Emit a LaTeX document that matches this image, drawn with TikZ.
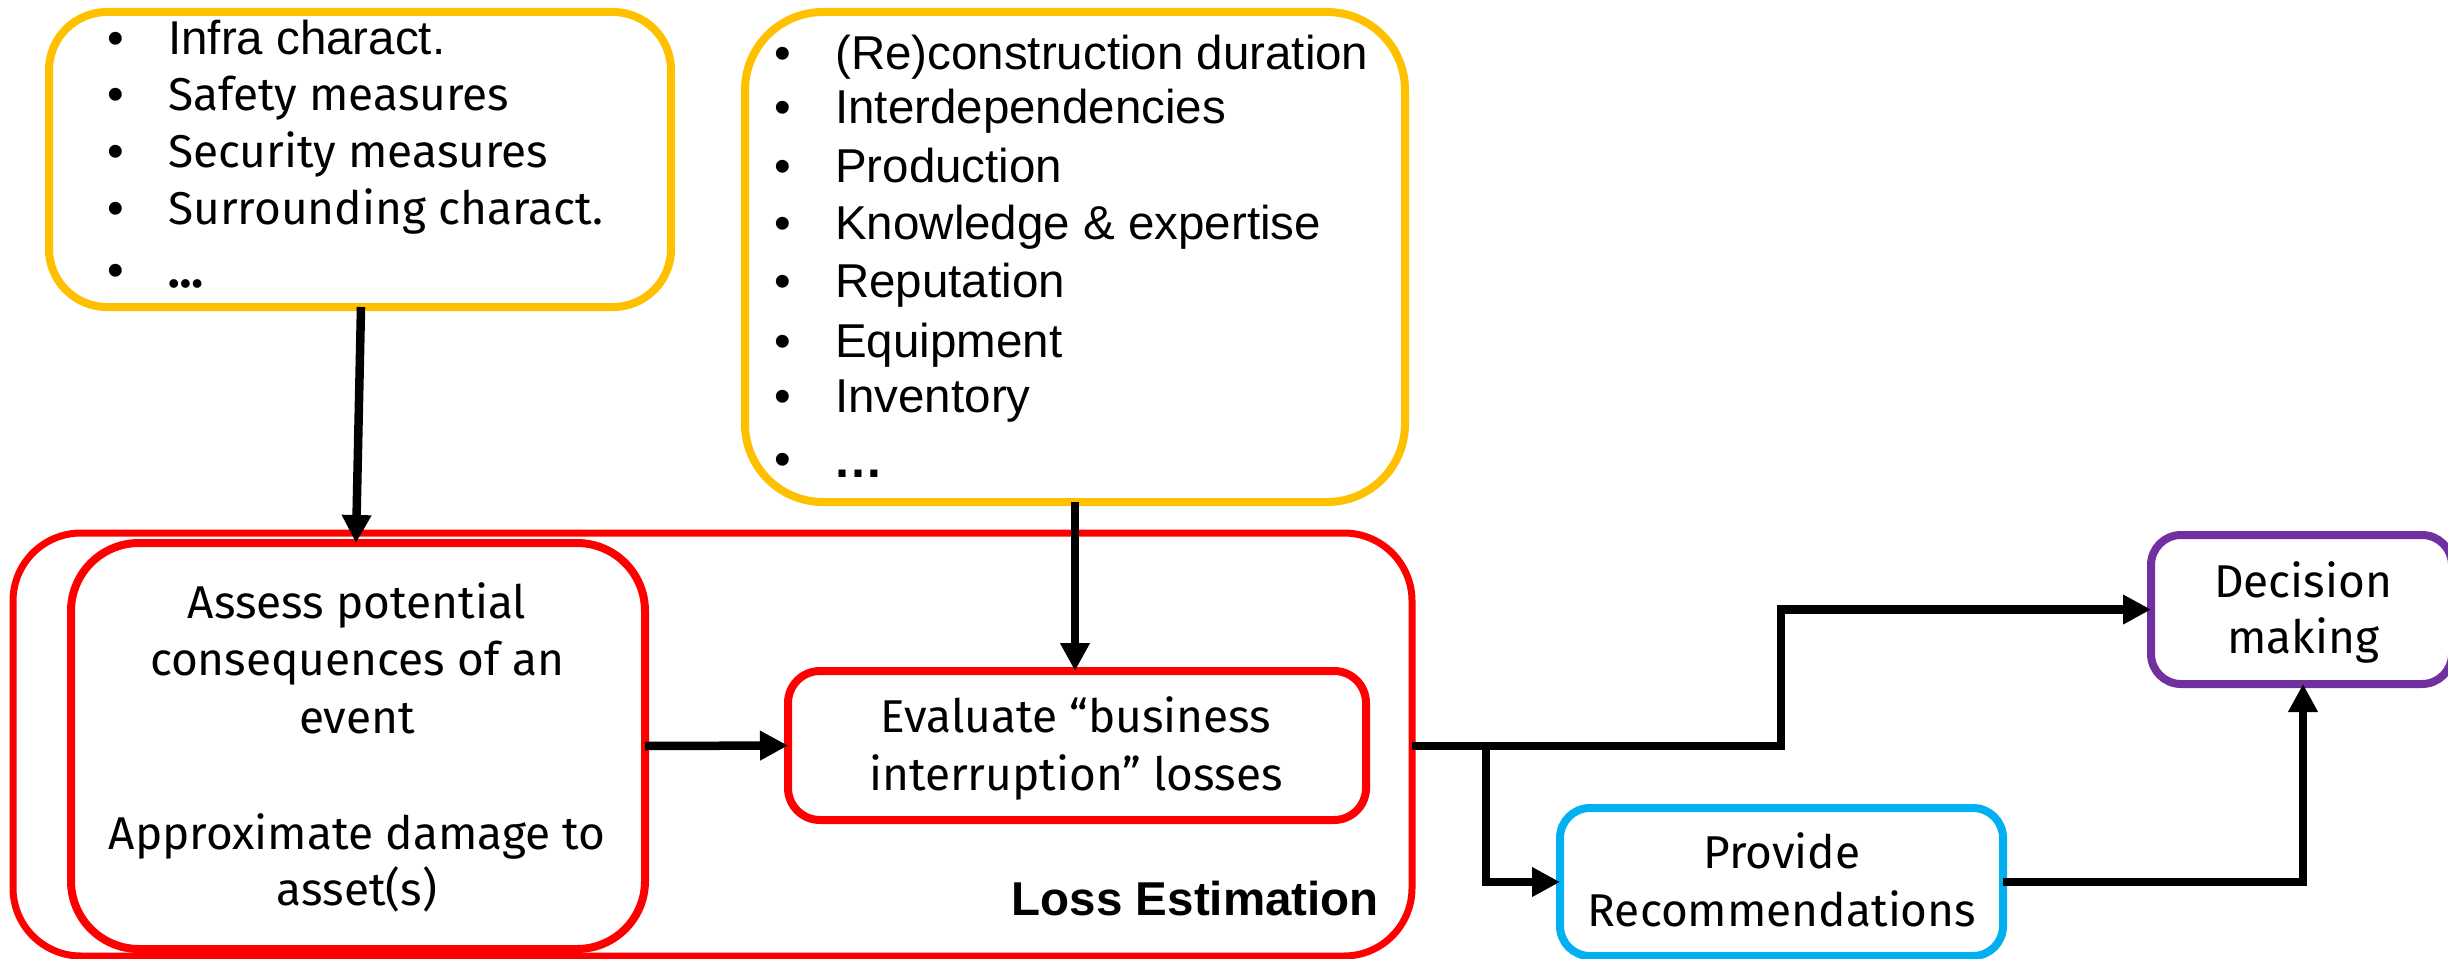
\documentclass[tikz,border=0pt]{standalone}
\usepackage{fontspec}
\setmainfont{Liberation Sans}
\newfontfamily\aptosfont{Fira Sans}
\usetikzlibrary{arrows.meta}
\definecolor{amber}{HTML}{FFC000}
\definecolor{lossred}{HTML}{FF0000}
\definecolor{skyblue}{HTML}{00B0F0}
\definecolor{deeppurple}{HTML}{7030A0}
\begin{document}
\begin{tikzpicture}[x=1pt,y=-1pt,
  box/.style={draw, line width=8pt, rounded corners=#1, inner sep=0pt, outer sep=0pt},
  wire/.style={line width=8.5pt, line join=miter},
  tipped/.style={-{Triangle[length=28pt,width=28pt]}},
  ari/.style={inner sep=0pt, font=\fontsize{47.5}{57}\selectfont},
  apt/.style={inner sep=0pt, font=\aptosfont\fontsize{46}{57}\selectfont},
  bul/.style={ari, anchor=base},
  item/.style={anchor=base west},
  line/.style={anchor=base}]

\fill[white] (0,0) rectangle (2448,958);
\useasboundingbox (0,0) rectangle (2448,958);

% input boxes
\node[box=58, draw=amber, minimum width=622pt, minimum height=295pt] (infra) at (360,159.5) {};
\node[box=78, draw=amber, minimum width=660pt, minimum height=490pt] (bi) at (1075,257) {};

% loss estimation frame and its steps
\node[box=68, draw=lossred, line width=7pt, minimum width=1399pt, minimum height=423pt] (loss) at (712.5,744.5) {};
\node[box=68, draw=lossred, minimum width=574pt, minimum height=406pt] (assess) at (358,746) {};
\node[box=32, draw=lossred, minimum width=578pt, minimum height=149pt] (eval) at (1077,745.5) {};

% outputs
\node[box=30, draw=skyblue, minimum width=443pt, minimum height=148pt] (prov) at (1781.5,882) {};
\node[box=30, draw=deeppurple, minimum width=301pt, minimum height=149pt] (dec) at (2301.5,609.5) {};

% infrastructure factors
\node[bul] (lb1) at (116,55) {•};  \node[ari,item] (li1) at (168,55) {Infra charact.};
\node[bul] (lb2) at (116,110) {•}; \node[apt,item] (li2) at (168,110) {Safety measures};
\node[bul] (lb3) at (116,167) {•}; \node[apt,item] (li3) at (168,167) {Security measures};
\node[bul] (lb4) at (116,224) {•}; \node[apt,item] (li4) at (168,224) {Surrounding charact.};
\node[bul] (lb5) at (116,286) {•}; \node[apt,item,font=\aptosfont\bfseries\fontsize{48}{57}\selectfont] (li5) at (168,287) {…};

% business interruption factors
\node[bul] (rb1) at (782.5,70) {•};  \node[ari,item] (ri1) at (835,70) {(Re)construction duration};
\node[bul] (rb2) at (782.5,123) {•}; \node[ari,item] (ri2) at (835,123) {Interdependencies};
\node[bul] (rb3) at (782.5,182) {•}; \node[ari,item] (ri3) at (835,182) {Production};
\node[bul] (rb4) at (782.5,239) {•}; \node[ari,item] (ri4) at (835,239) {Knowledge \& expertise};
\node[bul] (rb5) at (782.5,297) {•}; \node[ari,item] (ri5) at (835,297) {Reputation};
\node[bul] (rb6) at (782.5,357) {•}; \node[ari,item] (ri6) at (835,357) {Equipment};
\node[bul] (rb7) at (782.5,412) {•}; \node[ari,item] (ri7) at (835,412) {Inventory};
\node[bul] (rb8) at (782.5,475) {•}; \node[ari,item,font=\bfseries\fontsize{50}{57}\selectfont] (ri8) at (833,477) {…};

% step texts
\node[apt,line] (a1) at (357,618) {Assess potential};
\node[apt,line] (a2) at (357,675) {consequences of an};
\node[apt,line] (a3) at (357,733) {event};
\node[apt,line] (a4) at (357,849) {Approximate damage to};
\node[apt,line] (a5) at (357,905) {asset(s)};

\node[apt,line] (e1) at (1076,732) {Evaluate “business};
\node[apt,line] (e2) at (1076,790) {interruption” losses};

\node[ari,anchor=base east,font=\bfseries\fontsize{47.5}{57}\selectfont] (losslabel) at (1379,915) {Loss Estimation};

\node[apt,line] (p1) at (1782,868) {Provide};
\node[apt,line] (p2) at (1782,926) {Recommendations};

\node[apt,line] (d1) at (2303,597) {Decision};
\node[apt,line] (d2) at (2303,653) {making};

% connectors
\coordinate (split) at (1486,746);
\coordinate (rise) at (1781,746);

\draw[wire,tipped] ([xshift=1pt]infra.south) -- ([xshift=-2pt]assess.north);
\draw[wire,tipped] (bi.south) -- (bi.south |- eval.north);
\draw[wire,tipped] (assess.east) -- (eval.west);
\draw[wire,tipped] (loss.east |- rise) -- (rise) |- (dec.west);
\draw[wire,tipped] (split) |- (prov.west);
\draw[wire,tipped] (prov.east) -| ([xshift=1.5pt]dec.south);
\end{tikzpicture}
\end{document}
